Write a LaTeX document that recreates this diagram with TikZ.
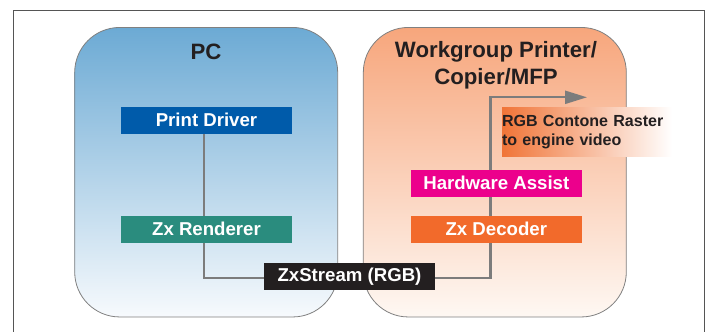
\documentclass[tikz,border=0pt]{standalone}
\usepackage{fontspec}
\setmainfont{Liberation Sans}
\usetikzlibrary{arrows.meta}
\definecolor{frame}{HTML}{555555}
\definecolor{edge}{HTML}{808080}
\definecolor{conn}{HTML}{7C7C7C}
\definecolor{ink}{HTML}{231F20}
\definecolor{pctop}{HTML}{6CAAD4}
\definecolor{pcbot}{HTML}{F7FAFD}
\definecolor{prtop}{HTML}{F7A67C}
\definecolor{prbot}{HTML}{FEF8F3}
\definecolor{drvblue}{HTML}{005BAA}
\definecolor{rendteal}{HTML}{2A8C7E}
\definecolor{hwmag}{HTML}{EC008C}
\definecolor{decorange}{HTML}{F26A2B}
\definecolor{rgborange}{HTML}{F07437}
\pgfdeclarelayer{back}
\pgfdeclarelayer{front}
\pgfsetlayers{back,main,front}
\begin{document}
\begin{tikzpicture}[x=1bp,y=-1bp,
  container/.style={draw=edge, line width=0.8bp, rounded corners=45bp,
    minimum width=263bp, minimum height=289.5bp, inner sep=0pt},
  title/.style={text=ink, align=center, inner sep=0pt,
    font=\bfseries\fontsize{22.3}{27}\selectfont},
  stage/.style={minimum width=171bp, minimum height=26.7bp, inner sep=0pt,
    text=white, font=\bfseries\fontsize{18.7}{20}\selectfont},
  link/.style={draw=conn, line width=2.3bp},
]
\useasboundingbox (0,0) rectangle (707,331);
% outer frame (continues below the picture)
\draw[frame, line width=0.9bp] (13,335) -- (13,10.5) -- (704.3,10.5) -- (704.3,335);

\begin{pgfonlayer}{back}
\node[container, top color=pctop, bottom color=pcbot] (pc) at (206.2,172.2) {};
\node[container, top color=prtop, bottom color=prbot] (prn) at (494.8,172.2) {};
\end{pgfonlayer}

\node[title] (pct) at (206,52) {PC};
\node[title] (prt) at (496,65.5) {Workgroup Printer/\\Copier/MFP};

\begin{pgfonlayer}{front}
\node[stage, fill=drvblue] (pd) at (206.5,120.3) {Print Driver};
\node[stage, fill=rendteal] (zr) at (206.5,229.3) {Zx Renderer};
\node[stage, fill=ink, minimum height=26.4bp] (zs) at (349.5,276.5) {ZxStream (RGB)};
\node[stage, fill=hwmag] (ha) at (496.3,183.3) {Hardware Assist};
\node[stage, fill=decorange] (zd) at (496.3,229.3) {Zx Decoder};
\node[left color=rgborange, right color=white, minimum width=170bp,
  minimum height=49.4bp, text width=170bp, inner sep=0pt, align=left,
  text=ink, font=\bfseries\fontsize{16.1}{18.3}\selectfont] (rgb) at (587,132)
  {RGB Contone Raster\\to engine video};
\end{pgfonlayer}

\coordinate (bend) at (490.5,97.3);
\coordinate (tip) at (587,97.3);
\draw[link] ([xshift=-2.3bp]pd.south) |- ([yshift=-1.2bp]zs.west);
\draw[link, -{Triangle[length=22bp,width=13bp]}] ([yshift=-1.2bp]zs.east) -| (bend) -- (tip);
\end{tikzpicture}
\end{document}
